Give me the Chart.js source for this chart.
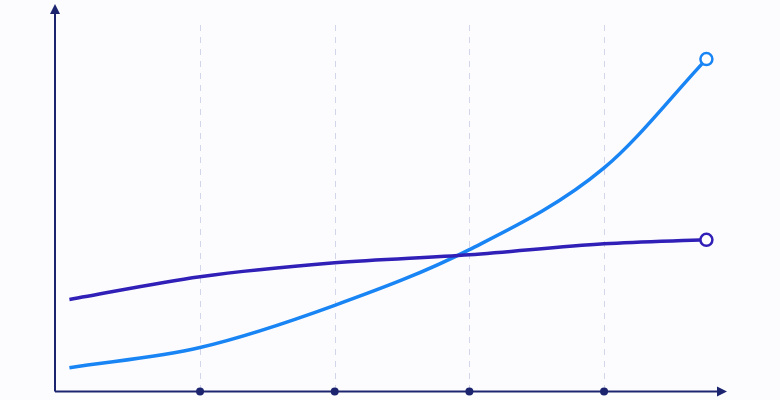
<!DOCTYPE html>
<html>
<head>
<meta charset="utf-8">
<script src="https://cdn.jsdelivr.net/npm/chart.js@4"></script>
<style>
html,body{margin:0;padding:0;background:#fcfcfe;}
#wrap{width:780px;height:400px;}
</style>
</head>
<body>
<div id="wrap"><canvas id="c" width="780" height="400"></canvas></div>
<script>
const xValues = [0.03, 1, 2, 3, 4, 4.76];
const gridTicks = [1, 2, 3, 4];
const risingSeries = [6.5, 12.0, 23.5, 38.7, 61.0, 90.7];
const flatSeries = [25.1, 31.3, 35.1, 37.3, 40.3, 41.4];

const AXIS = '#1c2470';
const LIGHT = '#1985f5';
const DARK = '#3020b8';

function pts(ys){ return xValues.map((x,i)=>({x:x,y:ys[i]})); }
function endRadius(ys){ return ys.map((_,i)=> i===ys.length-1 ? 6 : 0); }

const axesPlugin = {
  id:'axesPlugin',
  beforeDatasetsDraw(chart){
    const {ctx, chartArea:a, scales:{x}} = chart;
    ctx.save();
    ctx.strokeStyle = '#d3d6ea';
    ctx.lineWidth = 1;
    ctx.setLineDash([6,6]);
    gridTicks.forEach(t=>{
      const px = Math.round(x.getPixelForValue(t))+0.5;
      ctx.beginPath(); ctx.moveTo(px, a.top); ctx.lineTo(px, a.bottom); ctx.stroke();
    });
    ctx.setLineDash([]);
    ctx.strokeStyle = AXIS; ctx.fillStyle = AXIS; ctx.lineWidth = 2;
    ctx.beginPath();
    ctx.moveTo(a.left, a.bottom); ctx.lineTo(a.left, 12);
    ctx.moveTo(a.left, a.bottom); ctx.lineTo(a.right - 6, a.bottom);
    ctx.stroke();
    ctx.beginPath();
    ctx.moveTo(a.left, 4); ctx.lineTo(a.left-5, 14); ctx.lineTo(a.left+5, 14); ctx.closePath(); ctx.fill();
    ctx.beginPath();
    ctx.moveTo(a.right+2, a.bottom); ctx.lineTo(a.right-8, a.bottom-5); ctx.lineTo(a.right-8, a.bottom+5); ctx.closePath(); ctx.fill();
    gridTicks.forEach(t=>{
      const px = x.getPixelForValue(t);
      ctx.beginPath(); ctx.arc(px, a.bottom, 4, 0, Math.PI*2); ctx.fill();
    });
    ctx.restore();
  }
};

new Chart(document.getElementById('c'), {
  type:'line',
  data:{
    datasets:[
      {data:pts(flatSeries), borderColor:DARK, borderWidth:3.5, fill:false,
       cubicInterpolationMode:'monotone', pointRadius:endRadius(flatSeries),
       pointBackgroundColor:'#ffffff', pointBorderColor:DARK, pointBorderWidth:2.5},
      {data:pts(risingSeries), borderColor:LIGHT, borderWidth:3.5, fill:false,
       cubicInterpolationMode:'monotone', pointRadius:endRadius(risingSeries),
       pointBackgroundColor:'#ffffff', pointBorderColor:LIGHT, pointBorderWidth:2.5}
    ]
  },
  options:{
    responsive:false, animation:false,
    layout:{padding:{left:55, right:55, top:25, bottom:8}},
    plugins:{legend:{display:false}, tooltip:{enabled:false}},
    scales:{
      x:{type:'linear', display:false, min:-0.077, max:4.898},
      y:{display:false, min:0, max:100}
    }
  },
  plugins:[axesPlugin]
});
</script>
</body>
</html>
